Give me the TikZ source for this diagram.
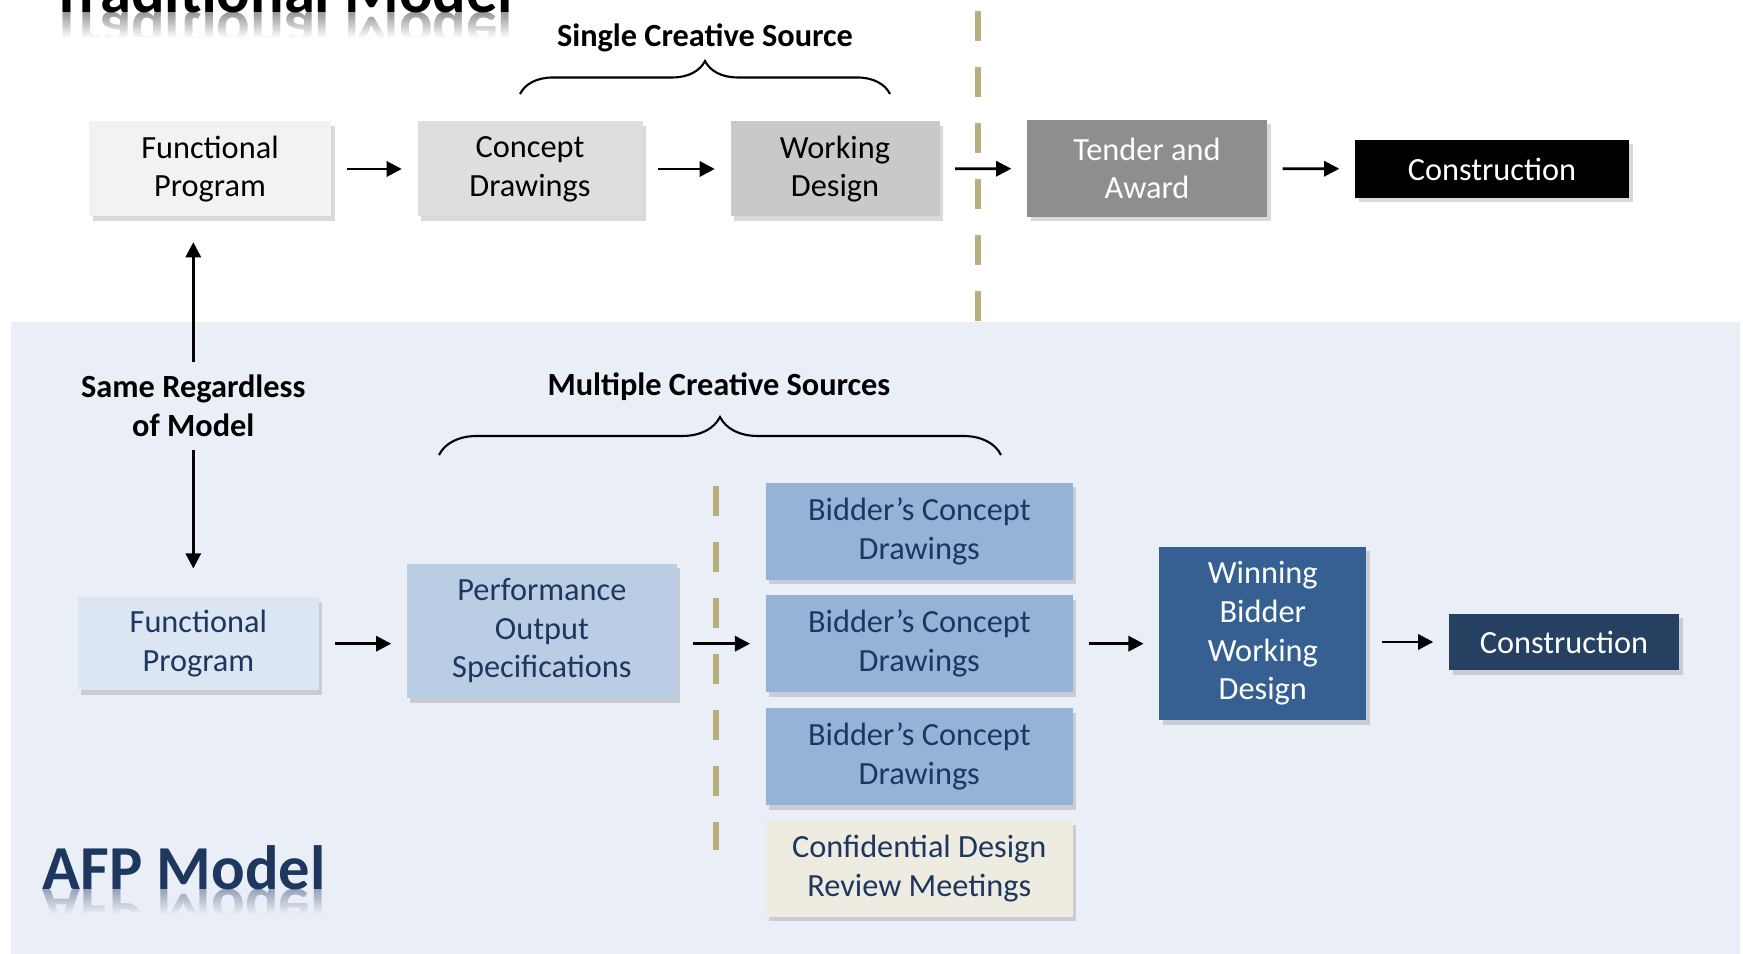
\documentclass[tikz,border=0pt]{standalone}
\usepackage{fontspec}
\setmainfont{Carlito}
\usetikzlibrary{arrows.meta,decorations.pathreplacing,shadows,fadings}

\definecolor{panel}{RGB}{234,239,247}
\definecolor{divcol}{RGB}{185,174,125}
\definecolor{navy}{RGB}{30,55,95}
\definecolor{grayA}{RGB}{242,242,242}
\definecolor{grayB}{RGB}{222,222,222}
\definecolor{grayC}{RGB}{201,201,201}
\definecolor{grayD}{RGB}{142,142,142}
\definecolor{blueA}{RGB}{220,230,242}
\definecolor{blueB}{RGB}{185,205,229}
\definecolor{blueC}{RGB}{149,179,215}
\definecolor{blueD}{RGB}{55,96,146}
\definecolor{blueE}{RGB}{37,64,97}
\definecolor{tan}{RGB}{238,236,225}

\tikzfading[name=mirror, top color=transparent!100, bottom color=transparent!0]

\tikzset{
  box/.style={align=center, inner sep=0pt, font=\fontsize{9.2}{11}\selectfont,
    drop shadow={shadow xshift=0.035cm, shadow yshift=-0.045cm, opacity=0.3}},
  arr/.style={-{Triangle[length=4.3pt,width=4.3pt]}, line width=0.8pt,
    shorten <=0.15cm, shorten >=0.15cm},
  divider/.style={divcol, line width=1.7pt, dash pattern=on 0.3cm off 0.26cm},
  note/.style={font=\bfseries\fontsize{9.2}{11}\selectfont, align=center, inner sep=0pt},
  curly/.style={decorate, decoration={brace, amplitude=#1}, line width=0.6pt},
  title/.style={anchor=base west, inner sep=0pt, font=\bfseries\fontsize{17.8}{20}\selectfont}
}

\begin{document}
\begin{tikzpicture}
  \useasboundingbox (0,0) rectangle (17.43,-9.54);
  \clip (0,0) rectangle (17.43,-9.54);
  \fill[panel] (0.11,-3.224) rectangle (17.40,-9.60);

  % traditional model
  \node[title] (trad) at (0.51,-0.13) {Traditional Model};
  \node[title, yscale=-1, transform shape, opacity=0.4] (tradm) at (0.51,-0.13) {Traditional Model};
  \fill[white, path fading=mirror] (0.45,-0.13) rectangle (5.3,-0.38);
  \fill[white] (0.45,-0.38) rectangle (5.3,-0.62);

  \node[box, fill=grayA, minimum width=2.42cm, minimum height=0.95cm] (fp1) at (2.10,-1.69) {Functional\\Program};
  \node[box, fill=grayB, minimum width=2.25cm, minimum height=0.95cm] (cd) at (5.30,-1.69) {Concept\\Drawings};
  \node[box, fill=grayC, minimum width=2.09cm, minimum height=0.95cm] (wd) at (8.35,-1.69) {Working\\Design};
  \node[box, fill=grayD, text=white, minimum width=2.40cm, minimum height=0.97cm] (ta) at (11.47,-1.685) {Tender and\\Award};
  \node[box, fill=black, text=white, minimum width=2.74cm, minimum height=0.58cm] (con1) at (14.92,-1.69) {Construction};

  \draw[arr] (fp1) -- (cd);
  \draw[arr] (cd) -- (wd);
  \draw[arr] (wd) -- (ta);
  \draw[arr] (ta) -- (con1);

  \draw[divider] (9.782,-0.11) -- (9.782,-3.224);

  \node[note] (single) at (7.05,-0.38) {Single Creative Source};
  \draw[curly=0.33cm] (5.20,-0.94) -- (8.90,-0.94);

  % afp model
  \node[note] (same) at (1.933,-4.06) {Same Regardless\\of Model};
  \node[title, text=navy] (afp) at (0.42,-8.90) {AFP Model};
  \node[title, text=navy, yscale=-1, transform shape, opacity=0.4] (afpm) at (0.42,-8.90) {AFP Model};
  \fill[panel, path fading=mirror] (0.35,-8.90) rectangle (3.4,-9.14);
  \fill[panel] (0.35,-9.14) rectangle (3.4,-9.40);

  \node[box, fill=blueA, text=navy, minimum width=2.41cm, minimum height=0.93cm] (fp2) at (1.984,-6.437) {Functional\\Program};
  \node[box, fill=blueB, text=navy, minimum width=2.70cm, minimum height=1.345cm] (pos) at (5.419,-6.308) {Performance\\Output\\Specifications};
  \node[box, fill=blueC, text=navy, minimum width=3.07cm, minimum height=0.97cm] (b1) at (9.193,-5.313) {Bidder’s Concept\\Drawings};
  \node[box, fill=blueC, text=navy, minimum width=3.07cm, minimum height=0.97cm] (b2) at (9.193,-6.437) {Bidder’s Concept\\Drawings};
  \node[box, fill=blueC, text=navy, minimum width=3.07cm, minimum height=0.97cm] (b3) at (9.193,-7.567) {Bidder’s Concept\\Drawings};
  \node[box, fill=tan, text=navy, minimum width=3.07cm, minimum height=0.96cm] (conf) at (9.193,-8.687) {Confidential Design\\Review Meetings};
  \node[box, fill=blueD, text=white, minimum width=2.07cm, minimum height=1.734cm] (win) at (12.628,-6.336) {Winning\\Bidder\\Working\\Design};
  \node[box, fill=blueE, text=white, minimum width=2.30cm, minimum height=0.567cm] (con2) at (15.64,-6.42) {Construction};

  \draw[arr] (fp2) -- (fp2 -| pos.west);
  \draw[arr] (pos.east |- b2) -- (b2);
  \draw[arr] (b2) -- (b2 -| win.west);
  \draw[arr] (win.east |- con2) -- (con2);

  \draw[arr, shorten <=0.12cm, shorten >=0.25cm] (same) -- (same |- fp1.south);
  \draw[arr, shorten <=0.13cm, shorten >=0.28cm] (same) -- (same |- fp2.north);

  \draw[divider] (7.159,-4.858) -- (7.159,-8.504);

  \node[note] (multi) at (7.19,-3.87) {Multiple Creative Sources};
  \draw[curly=0.38cm] (4.39,-4.55) -- (10.01,-4.55);
\end{tikzpicture}
\end{document}
